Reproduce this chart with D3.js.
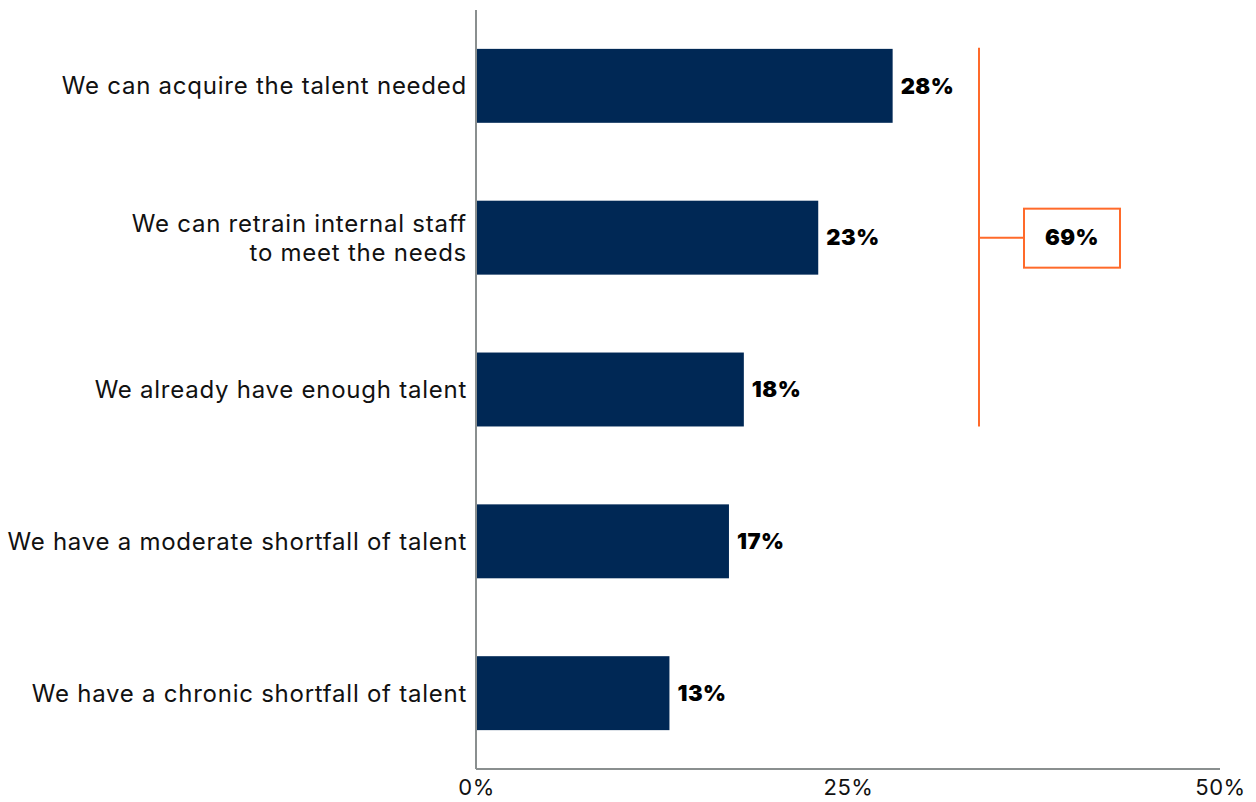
<!DOCTYPE html>
<html>
<head>
<meta charset="utf-8">
<script src="https://cdn.jsdelivr.net/npm/d3@7"></script>
<style>
  body { margin: 0; background: #fff; }
  svg text { font-family: Inter, "Noto Sans", sans-serif; }
</style>
</head>
<body>
<div id="chart"></div>
<script>
// Data //////////////////////////////////////////////////////////////////
const categories = [
  'We can acquire the talent needed',
  'We can retrain internal staff|to meet the needs',
  'We already have enough talent',
  'We have a moderate shortfall of talent',
  'We have a chronic shortfall of talent'
];
const values = [28, 23, 18, 17, 13];
const xTicks = [0, 25, 50];
const bracketLabel = '69%';
const bracketRange = [0, 2]; // first to third bar

// Chart /////////////////////////////////////////////////////////////////
const width = 1256, height = 802;
const margin = {top: 10, right: 36, bottom: 33, left: 476};
const innerW = width - margin.left - margin.right;
const innerH = height - margin.top - margin.bottom;

const svg = d3.select('#chart').append('svg')
  .attr('width', width)
  .attr('height', height);

const g = svg.append('g')
  .attr('transform', `translate(${margin.left},${margin.top})`);

const x = d3.scaleLinear().domain([0, 50]).range([0, 744]);
const y = d3.scaleBand()
  .domain(categories)
  .range([0, innerH])
  .paddingInner(0.513)
  .paddingOuter(0.256);

// bars
g.selectAll('.bar')
  .data(values)
  .enter().append('rect')
  .attr('class', 'bar')
  .attr('x', 0)
  .attr('y', (d, i) => y(categories[i]))
  .attr('width', d => x(d))
  .attr('height', y.bandwidth())
  .attr('fill', '#002855');

// value labels
g.selectAll('.val')
  .data(values)
  .enter().append('text')
  .attr('class', 'val')
  .attr('x', d => x(d) + 8)
  .attr('y', (d, i) => y(categories[i]) + y.bandwidth() / 2)
  .attr('dy', '0.35em')
  .attr('font-size', 22)
  .attr('font-weight', 900)
  .attr('letter-spacing', 0.5)
  .attr('fill', '#000')
  .text(d => d + '%');

// category labels
const catLabels = g.selectAll('.cat')
  .data(categories)
  .enter().append('text')
  .attr('class', 'cat')
  .attr('text-anchor', 'end')
  .attr('font-size', 24)
  .attr('letter-spacing', 0.75)
  .attr('fill', '#111')
  .attr('transform', d => `translate(-9,${y(d) + y.bandwidth() / 2})`);

catLabels.each(function(d) {
  const lines = d.split('|');
  const t = d3.select(this);
  lines.forEach((line, i) => {
    t.append('tspan')
      .attr('x', 0)
      .attr('y', (i - (lines.length - 1) / 2) * 29)
      .attr('dy', '0.35em')
      .text(line);
  });
});

// axes
g.append('line')
  .attr('x1', 0).attr('x2', 0)
  .attr('y1', 0).attr('y2', innerH)
  .attr('stroke', '#8a8f8f').attr('stroke-width', 2);
g.append('line')
  .attr('x1', 0).attr('x2', x(50))
  .attr('y1', innerH).attr('y2', innerH)
  .attr('stroke', '#8a8f8f').attr('stroke-width', 2);

const xAxis = g.append('g')
  .attr('transform', `translate(0,${innerH})`)
  .call(d3.axisBottom(x).tickValues(xTicks).tickSize(0).tickPadding(10).tickFormat(d => d + '%'));
xAxis.select('.domain').remove();
xAxis.selectAll('text')
  .attr('font-size', 22)
  .attr('letter-spacing', 0.5)
  .attr('fill', '#111')
  .attr('font-family', 'Inter, "Noto Sans", sans-serif');

// bracket for the top three bars
const orange = '#ff6a2a';
const bx = 503;
const yTop = y(categories[bracketRange[0]]) - 1;
const yBot = y(categories[bracketRange[1]]) + y.bandwidth();
const yMid = y(categories[1]) + y.bandwidth() / 2;
g.append('line')
  .attr('x1', bx).attr('x2', bx)
  .attr('y1', yTop).attr('y2', yBot)
  .attr('stroke', orange).attr('stroke-width', 2);
g.append('line')
  .attr('x1', bx).attr('x2', bx + 45)
  .attr('y1', yMid).attr('y2', yMid)
  .attr('stroke', orange).attr('stroke-width', 2);
g.append('rect')
  .attr('x', bx + 45).attr('y', yMid - 29)
  .attr('width', 96).attr('height', 59)
  .attr('fill', '#fff')
  .attr('stroke', orange).attr('stroke-width', 2);
g.append('text')
  .attr('x', bx + 45 + 48).attr('y', yMid)
  .attr('dy', '0.35em')
  .attr('text-anchor', 'middle')
  .attr('font-size', 22)
  .attr('font-weight', 900)
  .attr('letter-spacing', 0.5)
  .text(bracketLabel);
</script>
</body>
</html>
